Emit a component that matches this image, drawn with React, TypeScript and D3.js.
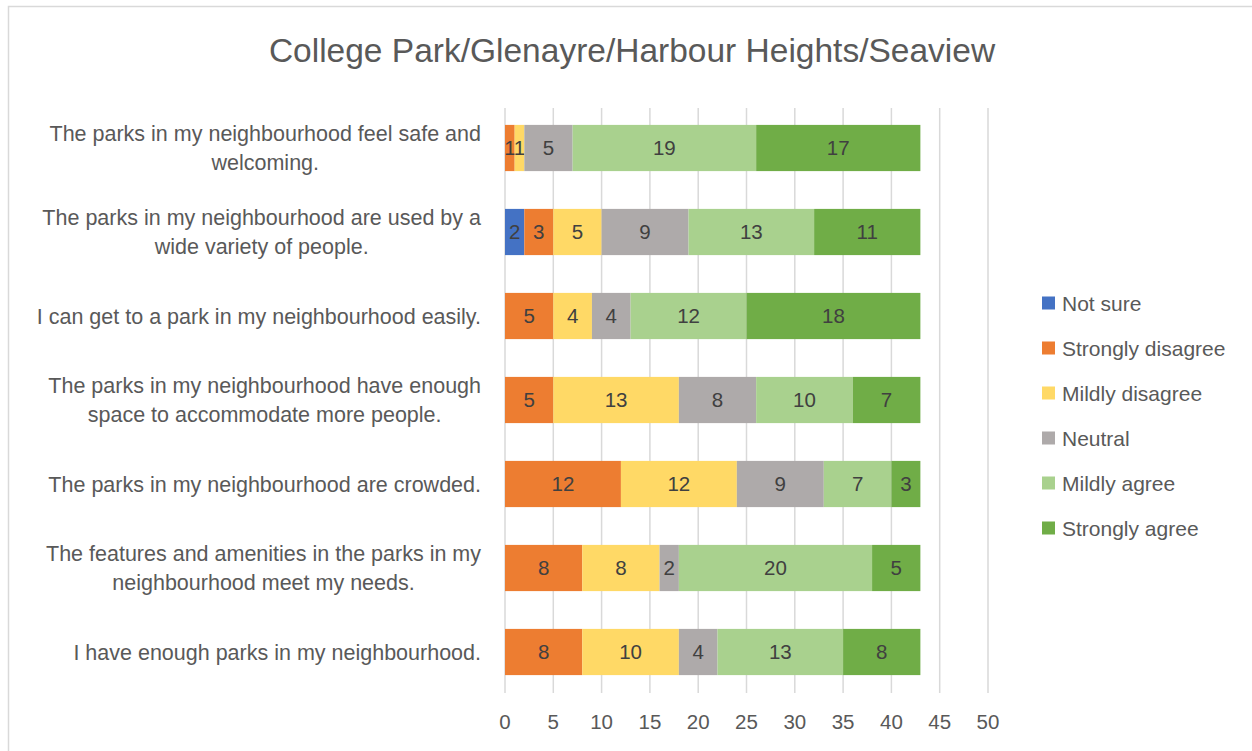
import { useEffect, useRef } from "react";
import * as d3 from "d3";

const title = "College Park/Glenayre/Harbour Heights/Seaview";

const questions = [
  ["The parks in my neighbourhood feel safe and", "welcoming."],
  ["The parks in my neighbourhood are used by a", "wide variety of people."],
  ["I can get to a park in my neighbourhood easily."],
  ["The parks in my neighbourhood have enough", "space to accommodate more people."],
  ["The parks in my neighbourhood are crowded."],
  ["The features and amenities in the parks in my", "neighbourhood meet my needs."],
  ["I have enough parks in my neighbourhood."],
];

const seriesNames = ["Not sure", "Strongly disagree", "Mildly disagree", "Neutral", "Mildly agree", "Strongly agree"];
const seriesColors = ["#4472C4", "#ED7D31", "#FFD966", "#AEAAAA", "#A9D18E", "#70AD47"];

// one array per series, in question order
const notSure = [0, 2, 0, 0, 0, 0, 0];
const stronglyDisagree = [1, 3, 5, 5, 12, 8, 8];
const mildlyDisagree = [1, 5, 4, 13, 12, 8, 10];
const neutral = [5, 9, 4, 8, 9, 2, 4];
const mildlyAgree = [19, 13, 12, 10, 7, 20, 13];
const stronglyAgree = [17, 11, 18, 7, 3, 5, 8];

const xTicks = [0, 5, 10, 15, 20, 25, 30, 35, 40, 45, 50];

const FONT = "'Liberation Sans', Arial, sans-serif";

const App = () => {
  const svgRef = useRef(null);

  useEffect(() => {
    const svg = d3.select(svgRef.current);
    svg.selectAll("*").remove();

    const width = 1252;
    const height = 751;
    const series = [notSure, stronglyDisagree, mildlyDisagree, neutral, mildlyAgree, stronglyAgree];

    svg.attr("width", width).attr("height", height).style("font-family", FONT);

    // chart frame
    svg.append("rect")
      .attr("x", 8.5).attr("y", 6.5)
      .attr("width", width + 20).attr("height", height + 20)
      .attr("fill", "#fff").attr("stroke", "#D9D9D9").attr("stroke-width", 1.5);

    svg.append("text")
      .attr("x", 632).attr("y", 50).attr("dy", "0.36em")
      .attr("text-anchor", "middle")
      .attr("font-size", 33.5)
      .attr("fill", "#595959")
      .text(title);

    const x = d3.scaleLinear().domain([0, 50]).range([505, 988]);
    const y = d3.scaleBand().domain(d3.range(questions.length)).range([106, 694]).paddingInner(0.45).paddingOuter(0.225);

    // gridlines
    svg.append("g").selectAll("line").data(xTicks).join("line")
      .attr("x1", (d) => x(d)).attr("x2", (d) => x(d))
      .attr("y1", 108).attr("y2", 693)
      .attr("stroke", "#D9D9D9").attr("stroke-width", 1.5);

    svg.append("g").selectAll("text").data(xTicks).join("text")
      .attr("x", (d) => x(d)).attr("y", 722).attr("dy", "0.36em")
      .attr("text-anchor", "middle")
      .attr("font-size", 20.5)
      .attr("fill", "#595959")
      .text((d) => d);

    // stacked bars
    const bars = svg.append("g");
    questions.forEach((q, i) => {
      let acc = 0;
      series.forEach((s, k) => {
        const v = s[i];
        if (!v) return;
        const x0 = x(acc);
        const x1 = x(acc + v);
        bars.append("rect")
          .attr("x", x0).attr("y", y(i))
          .attr("width", x1 - x0).attr("height", y.bandwidth())
          .attr("fill", seriesColors[k]);
        bars.append("text")
          .attr("x", (x0 + x1) / 2).attr("y", y(i) + y.bandwidth() / 2)
          .attr("dy", "0.36em")
          .attr("text-anchor", "middle")
          .attr("font-size", 20.5)
          .attr("fill", "#404040")
          .text(v);
        acc += v;
      });
    });

    // category labels
    const labels = svg.append("g");
    questions.forEach((lines, i) => {
      const cy = y(i) + y.bandwidth() / 2;
      const lineH = 29;
      const top = cy - ((lines.length - 1) * lineH) / 2;
      const t1 = labels.append("text")
        .attr("x", 481).attr("y", top).attr("dy", "0.36em")
        .attr("text-anchor", "end")
        .attr("font-size", 21.5).attr("fill", "#595959")
        .text(lines[0]);
      if (lines.length > 1) {
        const w1 = t1.node().getComputedTextLength();
        labels.append("text")
          .attr("x", 481 - w1 / 2).attr("y", top + lineH).attr("dy", "0.36em")
          .attr("text-anchor", "middle")
          .attr("font-size", 21.5).attr("fill", "#595959")
          .text(lines[1]);
      }
    });

    // legend
    const legend = svg.append("g");
    seriesNames.forEach((name, k) => {
      const ly = 303 + k * 45;
      legend.append("rect")
        .attr("x", 1042).attr("y", ly - 6.5)
        .attr("width", 13).attr("height", 13)
        .attr("fill", seriesColors[k]);
      legend.append("text")
        .attr("x", 1062).attr("y", ly).attr("dy", "0.36em")
        .attr("font-size", 21).attr("fill", "#595959")
        .text(name);
    });
  }, []);

  return <svg ref={svgRef} style={{ position: "absolute", left: 0, top: 0 }}></svg>;
};

export default App;
